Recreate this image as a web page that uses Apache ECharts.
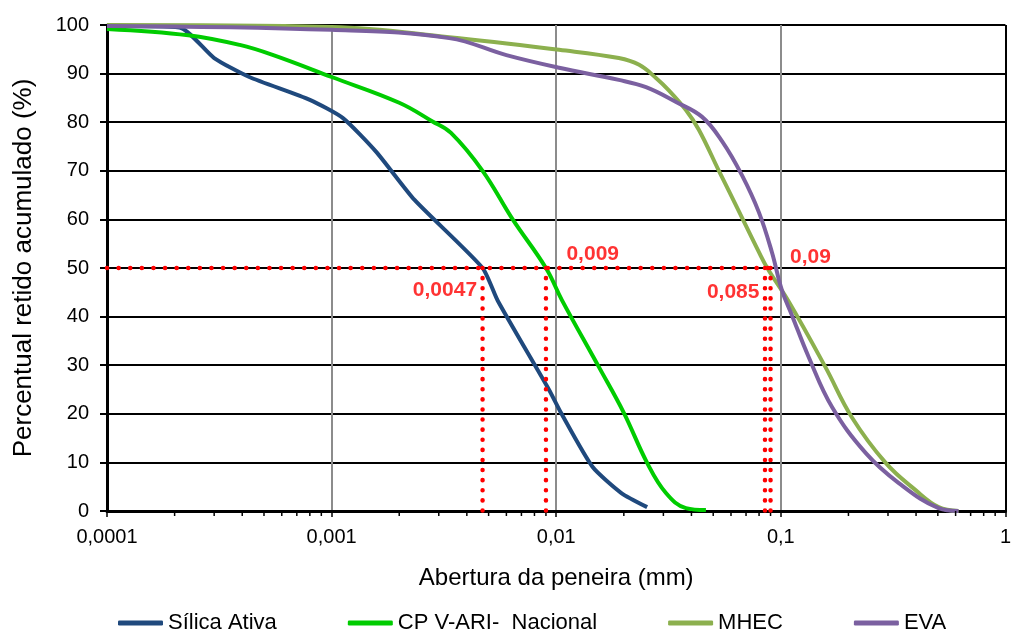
<!DOCTYPE html>
<html>
<head>
<meta charset="utf-8">
<script src="https://cdn.jsdelivr.net/npm/echarts@6/dist/echarts.min.js"></script>
<style>
  html, body { margin: 0; padding: 0; background: #fff; }
  #chart { width: 1014px; height: 630px; }
</style>
</head>
<body>
<div id="chart"></div>
<script>
// curvas granulometricas: [abertura (mm), % retido acumulado]
const silicaAtiva = [
  [0.0001, 99.8], [0.00021, 99.5], [0.0003, 93.2], [0.00043, 89.3], [0.0008, 84.6],
  [0.00112, 80.9], [0.00158, 73.9], [0.00234, 64], [0.0047, 50], [0.0055, 43.2],
  [0.0093, 24.9], [0.0105, 20.2], [0.0145, 9.1], [0.0195, 3.7], [0.0254, 0.8]
];
const cpVari = [
  [0.0001, 99.2], [0.00023, 97.9], [0.00039, 95.9], [0.00055, 93.8], [0.001, 89.3],
  [0.002, 84], [0.0028, 80.2], [0.0034, 77.8], [0.0047, 70], [0.0064, 60], [0.009, 50],
  [0.0106, 43.4], [0.0155, 29.6], [0.02, 20.2], [0.0254, 9.9], [0.0308, 3.7],
  [0.0378, 0.6], [0.0464, 0.2]
];
const mhec = [
  [0.0001, 100], [0.001, 99.6], [0.00334, 97.5], [0.0103, 94.9], [0.019, 93.2],
  [0.0234, 91.8], [0.0278, 89.1], [0.0318, 86.5], [0.0378, 82.5], [0.0432, 78.4],
  [0.053, 70], [0.065, 61.7], [0.0798, 53.3], [0.087, 50], [0.1087, 43], [0.158, 29.6],
  [0.207, 19.3], [0.293, 9.9], [0.398, 4.3], [0.504, 0.8], [0.618, 0]
];
const eva = [
  [0.0001, 99.8], [0.001, 99], [0.00334, 97.3], [0.006, 93.8], [0.0103, 91.2],
  [0.019, 88.7], [0.0251, 87.2], [0.034, 84.2], [0.0446, 81.1], [0.0547, 76.1],
  [0.0671, 69.1], [0.0798, 61.5], [0.0912, 53.3], [0.101, 45.5], [0.112, 40.3],
  [0.133, 31.7], [0.169, 21.4], [0.239, 11.9], [0.334, 5.8], [0.504, 0.6], [0.618, 0]
];

// linhas de referencia a 50 %
const d50 = [0.0047, 0.009, 0.085, 0.09];
const d50Labels = ['0,0047', '0,009', '0,085', '0,09'];
const minorTicks = [
  0.0002, 0.0003, 0.0004, 0.0005, 0.0006, 0.0007, 0.0008, 0.0009,
  0.002, 0.003, 0.004, 0.005, 0.006, 0.007, 0.008, 0.009,
  0.02, 0.03, 0.04, 0.05, 0.06, 0.07, 0.08, 0.09,
  0.2, 0.3, 0.4, 0.5, 0.6, 0.7, 0.8, 0.9
];

const FONT = '"Liberation Sans", Arial, sans-serif';
const chart = echarts.init(document.getElementById('chart'));

function fmtX(v) {
  if (v >= 1) return '1';
  const d = Math.round(-Math.log10(v));
  return v.toFixed(d).replace('.', ',');
}

function curve(name, data, color, smooth) {
  return {
    name: name,
    type: 'line',
    data: data,
    symbol: 'none',
    smooth: smooth,
    z: 3,
    lineStyle: { color: color, width: 4 },
    itemStyle: { color: color }
  };
}

const dots = { color: '#ff0000', width: 4.5, type: [0.1, 11.5], cap: 'round' };
const guides = [{
  type: 'line', data: [[0.0001, 50], [0.09, 50]], symbol: 'none', z: 5,
  lineStyle: dots, silent: true
}];
d50.forEach(v => {
  guides.push({
    type: 'line', data: [[v, 50], [v, 0]], symbol: 'none', z: 5,
    lineStyle: Object.assign({}, dots, { type: [0.1, 10] }), silent: true
  });
});

const labelPos = [[-5, 23, 'right'], [21, -13, 'left'], [-5, 25, 'right'], [20, -10, 'left']];
const annot = {
  type: 'scatter', symbolSize: 1, silent: true, z: 6,
  itemStyle: { color: 'rgba(0,0,0,0)' },
  data: d50.map((v, i) => ({
    value: [v, 50],
    label: {
      show: true, formatter: d50Labels[i], position: [labelPos[i][0], labelPos[i][1]],
      align: labelPos[i][2], verticalAlign: 'middle',
      color: '#ff0000', fontWeight: 'bold', fontSize: 21, fontFamily: FONT
    }
  }))
};

const minorTickSeries = {
  type: 'custom', data: minorTicks.map(v => [v, 0]), silent: true, clip: false, z: 4,
  renderItem: function (params, api) {
    const p = api.coord([api.value(0), 0]);
    return {
      type: 'line',
      shape: { x1: p[0], y1: p[1], x2: p[0], y2: p[1] + 5 },
      style: { stroke: '#000', lineWidth: 1.5 }
    };
  }
};

chart.setOption({
  animation: false,
  textStyle: { fontFamily: FONT },
  grid: { left: 107, right: 6, top: 25, bottom: 119 },
  legend: {
    data: ['Sílica Ativa', 'CP V-ARI-  Nacional', 'MHEC', 'EVA'],
    left: 113, top: 607,
    icon: 'roundRect',
    itemWidth: 45, itemHeight: 5, itemGap: 71,
    textStyle: { fontSize: 22, color: '#000', fontFamily: FONT }
  },
  xAxis: {
    type: 'log', logBase: 10, min: 0.0001, max: 1, interval: 1,
    name: 'Abertura da peneira (mm)', nameLocation: 'middle', nameGap: 55,
    nameTextStyle: { fontSize: 24, color: '#000', fontFamily: FONT },
    axisLine: { show: true, onZero: false, lineStyle: { color: '#000', width: 3 } },
    axisTick: { show: true, inside: false, length: 6, lineStyle: { color: '#000', width: 1.5 } },
    axisLabel: { formatter: fmtX, fontSize: 20, color: '#000', margin: 16, fontFamily: FONT },
    splitLine: { show: true, lineStyle: { color: ['#000', '#8c8c8c', '#8c8c8c', '#8c8c8c', '#000'], width: 2 } }
  },
  yAxis: {
    type: 'value', min: 0, max: 100, interval: 10,
    name: 'Percentual retido acumulado (%)', nameLocation: 'middle', nameGap: 70,
    nameTextStyle: { fontSize: 26, color: '#000', fontFamily: FONT },
    axisLine: { show: true, lineStyle: { color: '#000', width: 3 } },
    axisTick: { show: true, inside: false, length: 7, lineStyle: { color: '#000', width: 2 } },
    axisLabel: { fontSize: 20, color: '#000', margin: 18, fontFamily: FONT },
    splitLine: { show: true, lineStyle: { color: '#000', width: 2 } }
  },
  series: [
    curve('Sílica Ativa', silicaAtiva, '#1f497d', 0.2),
    curve('CP V-ARI-  Nacional', cpVari, '#00cc00', 0.4),
    curve('MHEC', mhec, '#8cb04e', 0.4),
    curve('EVA', eva, '#7b60a0', 0.4),
    minorTickSeries,
    annot
  ].concat(guides)
});
</script>
</body>
</html>
